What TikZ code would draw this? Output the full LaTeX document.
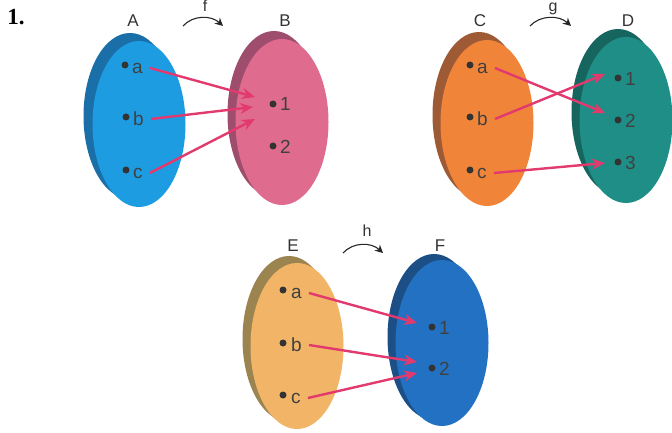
\documentclass[tikz,border=0pt]{standalone}
\usepackage{fontspec}
\setmainfont{Liberation Sans}
\newfontfamily\numfont{Liberation Serif}
\usetikzlibrary{shapes.geometric,arrows.meta}
\definecolor{aF}{HTML}{1E9CE2}\definecolor{aB}{HTML}{1B6FA8}
\definecolor{bF}{HTML}{DF6B8F}\definecolor{bB}{HTML}{9E4E6C}
\definecolor{cF}{HTML}{F0853A}\definecolor{cB}{HTML}{9E5A35}
\definecolor{dF}{HTML}{1F8E86}\definecolor{dB}{HTML}{17655F}
\definecolor{eF}{HTML}{F2B466}\definecolor{eB}{HTML}{9C8450}
\definecolor{fF}{HTML}{2371C2}\definecolor{fB}{HTML}{1B4F86}
\definecolor{arrowc}{HTML}{E23A6E}
\begin{document}
\begin{tikzpicture}[x=1pt,y=-1pt,
  disc/.style={ellipse, minimum width=93pt, minimum height=166pt, inner sep=0pt},
  dotm/.style={circle, fill=black!80, inner sep=0pt, minimum size=7pt},
  lab/.style={font=\fontsize{19}{19}\selectfont, text=black!75, inner sep=1pt, anchor=west},
  setname/.style={font=\fontsize{17}{17}\selectfont, text=black!80, inner sep=0pt},
  fname/.style={font=\fontsize{16}{16}\selectfont, text=black!80, inner sep=0pt},
  maparrow/.style={draw=arrowc, line width=2.4pt, -{Stealth[length=13pt,width=11pt]}},
  fnarrow/.style={draw=black!85, line width=1.1pt, -{Stealth[length=8pt,width=8pt]}},
]
\useasboundingbox (0,0) rectangle (672,433);
\node[font=\numfont\bfseries\fontsize{23}{23}\selectfont, inner sep=0pt] (num) at (16,17) {1.};

% ---------- A -> B ----------
\node[disc, fill=aB] (Aback) at (130,116) {};
\node[disc, fill=aF] (A) at (139,124) {};
\node[disc, fill=bB] (Bback) at (274,114) {};
\node[disc, fill=bF] (B) at (282,122) {};
\node[setname] (Al) at (133,21) {A};
\node[setname] (Bl) at (285,21) {B};
\node[fname] (fl) at (205,6) {f};
\coordinate (f1) at (183,26); \coordinate (f2) at (223,26);
\draw[fnarrow] (f1) .. controls (193,15) and (211,15) .. (f2);
\node[dotm] (Ad1) at (125,65) {}; \node[lab] (Aa) at (131,68) {a};
\node[dotm] (Ad2) at (126,117) {}; \node[lab] (Ab) at (132,119) {b};
\node[dotm] (Ad3) at (126,170) {}; \node[lab] (Ac) at (132,173) {c};
\node[dotm] (Bd1) at (273,104) {}; \node[lab] (B1) at (279,104) {1};
\node[dotm] (Bd2) at (273,146) {}; \node[lab] (B2) at (279,147) {2};
\coordinate (Bt1) at (255,97); \coordinate (Bt2) at (253,107); \coordinate (Bt3) at (255,119);
\draw[maparrow] ([xshift=6pt]Aa.east) -- (Bt1);
\draw[maparrow] ([xshift=6pt]Ab.east) -- (Bt2);
\draw[maparrow] ([xshift=6pt]Ac.east) -- (Bt3);

% ---------- C -> D ----------
\node[disc, fill=cB] (Cback) at (479,115) {};
\node[disc, fill=cF] (C) at (487,123) {};
\node[disc, fill=dB] (Dback) at (618,112) {};
\node[disc, fill=dF] (D) at (626,120) {};
\node[setname] (Cl) at (480,21) {C};
\node[setname] (Dl) at (628,21) {D};
\node[fname] (gl) at (553,9) {g};
\coordinate (g1) at (530,26); \coordinate (g2) at (571,26);
\draw[fnarrow] (g1) .. controls (540,15) and (559,15) .. (g2);
\node[dotm] (Cd1) at (470,65) {}; \node[lab] (Ca) at (476,68) {a};
\node[dotm] (Cd2) at (470,117) {}; \node[lab] (Cb) at (476,119) {b};
\node[dotm] (Cd3) at (470,170) {}; \node[lab] (Cc) at (476,173) {c};
\node[dotm] (Dd1) at (618,78) {}; \node[lab] (D1) at (624,79) {1};
\node[dotm] (Dd2) at (618,120) {}; \node[lab] (D2) at (624,121) {2};
\node[dotm] (Dd3) at (618,162) {}; \node[lab] (D3) at (624,163) {3};
\coordinate (Dt1) at (605,74); \coordinate (Dt2) at (605,113); \coordinate (Dt3) at (605,163);
\draw[maparrow] ([xshift=6pt]Ca.east) -- (Dt2);
\draw[maparrow] ([xshift=6pt]Cb.east) -- (Dt1);
\draw[maparrow] ([xshift=6pt]Cc.east) -- (Dt3);

% ---------- E -> F ----------
\node[disc, fill=eB] (Eback) at (289,339) {};
\node[disc, fill=eF] (E) at (297,346) {};
\node[disc, fill=fB] (Fback) at (434,337) {};
\node[disc, fill=fF] (F) at (442,343) {};
\node[setname] (El) at (293,246) {E};
\node[setname] (Fl) at (440,246) {F};
\node[fname] (hl) at (367,231) {h};
\coordinate (h1) at (343,253); \coordinate (h2) at (383,253);
\draw[fnarrow] (h1) .. controls (353,242) and (371,242) .. (h2);
\node[dotm] (Ed1) at (283,290) {}; \node[lab] (Ea) at (290,293) {a};
\node[dotm] (Ed2) at (283,343) {}; \node[lab] (Eb) at (290,345) {b};
\node[dotm] (Ed3) at (283,395) {}; \node[lab] (Ec) at (290,398) {c};
\node[dotm] (Fd1) at (432,327) {}; \node[lab] (F1) at (438,328) {1};
\node[dotm] (Fd2) at (432,368) {}; \node[lab] (F2) at (438,369) {2};
\coordinate (Ft1) at (417,323); \coordinate (Ft2) at (417,362); \coordinate (Ft3) at (417,373);
\draw[maparrow] ([xshift=6pt]Ea.east) -- (Ft1);
\draw[maparrow] ([xshift=6pt]Eb.east) -- (Ft2);
\draw[maparrow] ([xshift=6pt]Ec.east) -- (Ft3);
\end{tikzpicture}
\end{document}
